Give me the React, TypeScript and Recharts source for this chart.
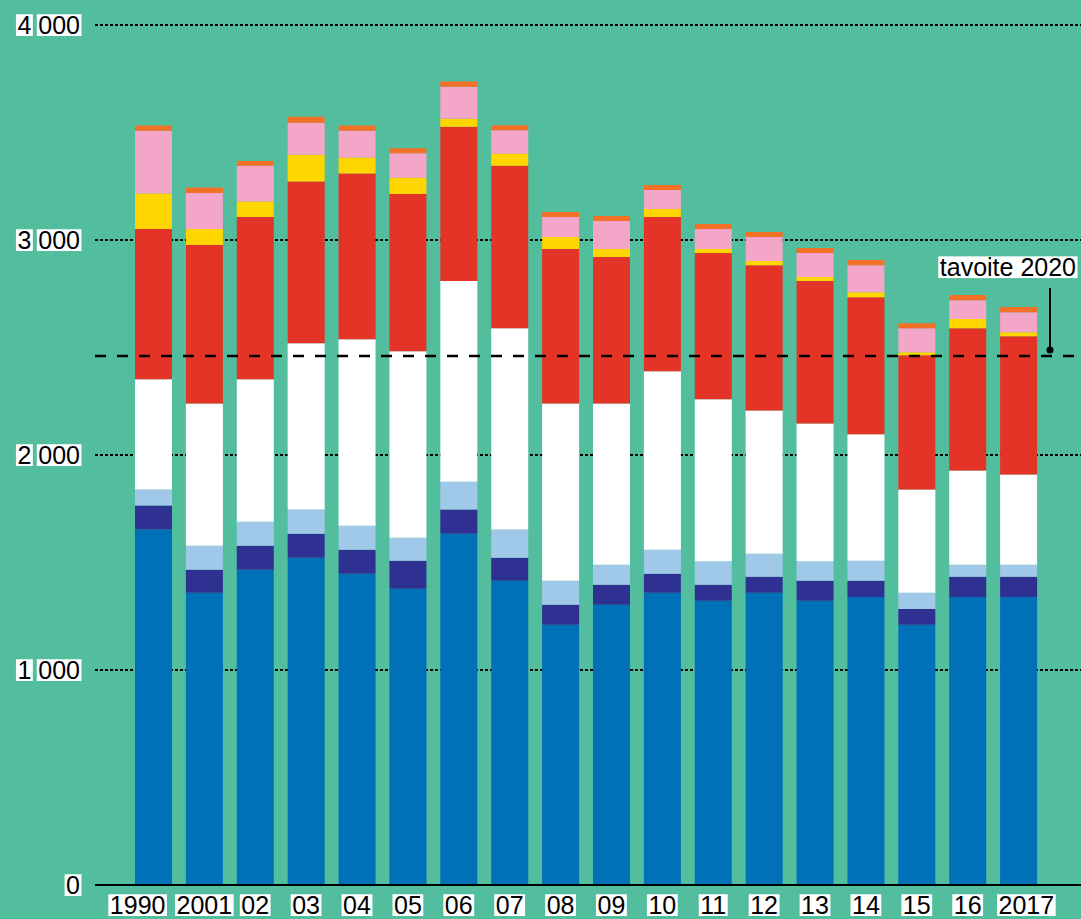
import { BarChart, Bar, XAxis, YAxis, CartesianGrid, ReferenceLine } from 'recharts';

const years = ['1990', '2001', '02', '03', '04', '05', '06', '07', '08', '09', '10', '11', '12', '13', '14', '15', '16', '2017'];

// stacked bottom -> top
const blue = [1653, 1359, 1466, 1522, 1448, 1378, 1634, 1415, 1210, 1303, 1359, 1322, 1359, 1322, 1340, 1210, 1340, 1340];
const navy = [112, 107, 112, 112, 111, 130, 112, 107, 93, 93, 89, 74, 75, 93, 75, 74, 94, 94];
const lightBlue = [74, 112, 112, 112, 112, 107, 130, 131, 112, 94, 111, 110, 107, 91, 93, 75, 56, 56];
const white = [513, 662, 662, 774, 867, 868, 933, 937, 825, 750, 830, 753, 666, 641, 588, 480, 438, 419];
const red = [699, 737, 755, 752, 771, 731, 718, 755, 718, 681, 718, 680, 676, 662, 638, 625, 662, 643];
const yellow = [165, 74, 72, 124, 75, 76, 37, 56, 56, 37, 37, 19, 19, 19, 23, 14, 42, 19];
const pink = [292, 168, 166, 149, 124, 113, 149, 109, 93, 130, 89, 93, 112, 111, 126, 112, 88, 93];
const orange = [25, 25, 23, 28, 25, 24, 24, 24, 23, 24, 23, 23, 23, 24, 24, 23, 24, 24];

const yTicks = [0, 1000, 2000, 3000, 4000];
const yTickLabels = ['0', '1 000', '2 000', '3 000', '4 000'];
const target = 2460;
const targetLabel = 'tavoite 2020';

const series = [
  { key: 'blue', values: blue, color: '#0070b8' },
  { key: 'navy', values: navy, color: '#2e3192' },
  { key: 'lightBlue', values: lightBlue, color: '#a0c8e9' },
  { key: 'white', values: white, color: '#ffffff' },
  { key: 'red', values: red, color: '#e33427' },
  { key: 'yellow', values: yellow, color: '#ffd500' },
  { key: 'pink', values: pink, color: '#f4a6c8' },
  { key: 'orange', values: orange, color: '#f37027' },
];

const data = years.map((year, i) => {
  const row: Record<string, string | number> = { year };
  series.forEach(s => { row[s.key] = s.values[i]; });
  return row;
});

const FONT = "'Liberation Sans', Arial, sans-serif";
const SIZE = 25;
const BG = '#52be9e';

let ctx: CanvasRenderingContext2D | null = null;
function textWidth(s: string) {
  if (!ctx) ctx = document.createElement('canvas').getContext('2d');
  if (!ctx) return s.length * SIZE * 0.556;
  ctx.font = `${SIZE}px ${FONT}`;
  return ctx.measureText(s).width;
}

// text with white box behind it; split=true gives one box per word
function BoxedText({ x, baseline, text, anchor, split }: { x: number; baseline: number; text: string; anchor: 'start' | 'middle' | 'end'; split?: boolean }) {
  const words = split ? text.split(' ') : [text];
  const space = textWidth(' ');
  const widths = words.map(w => textWidth(w));
  const total = widths.reduce((a, b) => a + b, 0) + space * (words.length - 1);
  let left = anchor === 'end' ? x - total : anchor === 'middle' ? x - total / 2 : x;
  const cap = SIZE * 0.73;
  return (
    <g>
      {words.map((w, i) => {
        const lx = left;
        left += widths[i] + space;
        return (
          <g key={i}>
            <rect x={lx - 1.5} y={baseline - cap - 1.5} width={widths[i] + 3} height={cap + 3.5} fill="#fff" />
            <text x={lx} y={baseline} fontFamily={FONT} fontSize={SIZE} fill="#000">{w}</text>
          </g>
        );
      })}
    </g>
  );
}

const YTick = (props: any) => {
  const { x, y, payload } = props;
  const idx = yTicks.indexOf(payload.value);
  return <BoxedText x={x} baseline={y + 9} text={yTickLabels[idx]} anchor="end" split />;
};

const XTick = (props: any) => {
  const { x, y, payload, index } = props;
  const i = index ?? years.indexOf(payload.value);
  const base = y + 29;
  if (i === 0) return <BoxedText x={x + 12} baseline={base} text={payload.value} anchor="end" />;
  if (i === years.length - 1) return <BoxedText x={x - 20} baseline={base} text={payload.value} anchor="start" />;
  return <BoxedText x={x} baseline={base} text={payload.value} anchor="middle" />;
};

const renderTarget = (props: any) => {
  const { viewBox } = props;
  const right = viewBox.x + viewBox.width;
  const y = viewBox.y;
  return (
    <g>
      <BoxedText x={right - 5} baseline={y - 80} text={targetLabel} anchor="end" />
      <line x1={right - 31} x2={right - 31} y1={y - 68} y2={y - 6} stroke="#000" strokeWidth={2} />
      <circle cx={right - 31} cy={y - 6} r={3.5} fill="#000" />
    </g>
  );
};

export default function App() {
  return (
    <div style={{ position: 'absolute', left: 0, top: 0, width: 1081, height: 919, background: BG }}>
      <BarChart width={1081} height={919} data={data} margin={{ top: 25, right: 0, bottom: 0, left: 0 }}>
        <CartesianGrid vertical={false} stroke="#000" strokeWidth={2} strokeDasharray="3 2" />
        <XAxis
          dataKey="year"
          height={34}
          padding={{ left: 33, right: 37 }}
          axisLine={{ stroke: '#000', strokeWidth: 2 }}
          tickLine={false}
          tickSize={0}
          tickMargin={0}
          interval={0}
          tick={<XTick />}
        />
        <YAxis
          width={95}
          domain={[0, 4000]}
          ticks={yTicks}
          axisLine={false}
          tickLine={false}
          tickSize={0}
          tickMargin={15}
          tick={<YTick />}
        />
        {series.map(s => (
          <Bar key={s.key} dataKey={s.key} stackId="a" fill={s.color} barSize={37} isAnimationActive={false} />
        ))}
        <ReferenceLine y={target} stroke="#000" strokeWidth={2.5} strokeDasharray="11 11" label={renderTarget} />
      </BarChart>
    </div>
  );
}
